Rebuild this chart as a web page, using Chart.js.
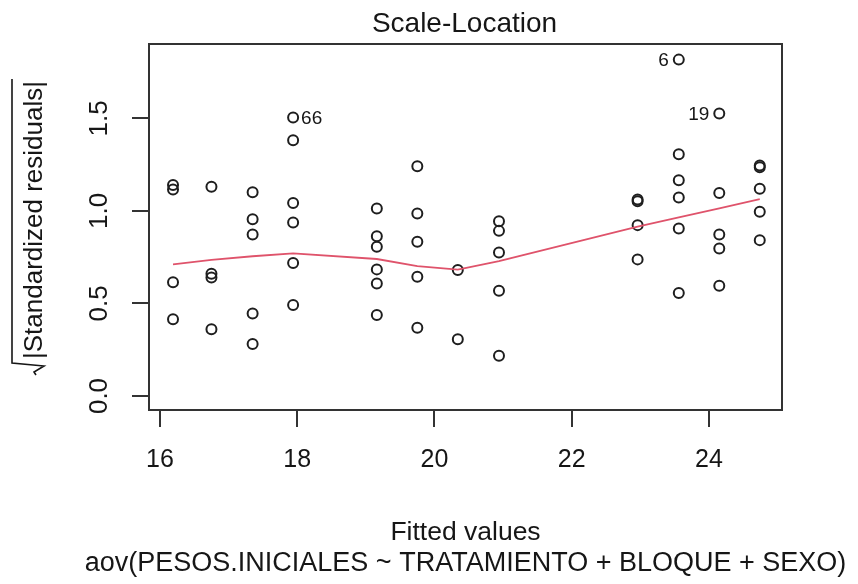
<!DOCTYPE html>
<html>
<head>
<meta charset="utf-8">
<script src="https://cdn.jsdelivr.net/npm/chart.js@4.4.1/dist/chart.umd.min.js"></script>
<style>
  html, body { margin: 0; padding: 0; background: #ffffff; }
  #wrap { width: 858px; height: 584px; }
</style>
</head>
<body>
<div id="wrap"><canvas id="c" width="858" height="584"></canvas></div>
<script>
// ---- data ----
const fittedGroups = [16.19, 16.75, 17.35, 17.94, 19.16, 19.75, 20.34, 20.94, 22.96, 23.56, 24.15, 24.74];
const sqrtStdResid = [
  [1.140, 1.115, 0.615, 0.415],
  [1.130, 0.660, 0.640, 0.360],
  [1.100, 0.955, 0.873, 0.446, 0.281],
  [1.504, 1.381, 1.043, 0.937, 0.719, 0.491],
  [1.013, 0.863, 0.806, 0.684, 0.608, 0.437],
  [1.241, 0.986, 0.833, 0.644, 0.369],
  [0.680, 0.306],
  [0.944, 0.892, 0.775, 0.568, 0.218],
  [1.062, 1.052, 0.923, 0.738],
  [1.817, 1.306, 1.166, 1.072, 0.905, 0.557],
  [1.526, 1.097, 0.872, 0.797, 0.595],
  [1.245, 1.235, 1.119, 0.995, 0.842]
];
const lowessY = [0.711, 0.735, 0.755, 0.770, 0.740, 0.702, 0.683, 0.729, 0.915, 0.965, 1.013, 1.063];
const xTicks = [16, 18, 20, 22, 24];
const yTicks = [0.0, 0.5, 1.0, 1.5];
const yTickLabels = ['0.0', '0.5', '1.0', '1.5'];
const labelIds = ['66', '6', '19'];
const labelX = [17.94, 23.56, 24.15];
const labelY = [1.504, 1.817, 1.526];
const labelSide = ['right', 'left', 'left'];
const titleText = 'Scale-Location';
const xTitle = 'Fitted values';
const subTitle = 'aov(PESOS.INICIALES ~ TRATAMIENTO + BLOQUE + SEXO)';
const yTitle = '|Standardized residuals|';

// ---- build library structures ----
const pointData = [];
fittedGroups.forEach((fx, i) => sqrtStdResid[i].forEach(v => pointData.push({ x: fx, y: v })));
const lineData = fittedGroups.map((fx, i) => ({ x: fx, y: lowessY[i] }));

const FONT = '"Liberation Sans", Arial, Helvetica, sans-serif';
const INK = '#161616';

const furniture = {
  id: 'furniture',
  afterDraw(chart) {
    const { ctx, chartArea: a, scales } = chart;
    const xs = scales.x, ys = scales.y;
    ctx.save();
    // box
    ctx.strokeStyle = '#333';
    ctx.lineWidth = 2;
    ctx.strokeRect(a.left, a.top, a.right - a.left, a.bottom - a.top);

    ctx.fillStyle = INK;
    // y tick labels (rotated, R style)
    ctx.font = '26px ' + FONT;
    ctx.textAlign = 'center';
    ctx.textBaseline = 'alphabetic';
    yTicks.forEach((v, i) => {
      const py = ys.getPixelForValue(v);
      ctx.save();
      ctx.translate(107, py);
      ctx.rotate(-Math.PI / 2);
      ctx.fillText(yTickLabels[i], 0, 0);
      ctx.restore();
    });

    // title
    const cx = (a.left + a.right) / 2;
    ctx.font = '28px ' + FONT;
    ctx.fillText(titleText, cx - 1, 32);

    // x title and sub title
    ctx.font = '26.5px ' + FONT;
    ctx.fillText(xTitle, cx, 540);
    ctx.font = '27px ' + FONT;
    ctx.fillText(subTitle, cx, 571);

    // y title with radical sign
    const cy = 220;
    ctx.save();
    ctx.translate(42, cy);
    ctx.rotate(-Math.PI / 2);
    ctx.font = '26px ' + FONT;
    ctx.textAlign = 'center';
    ctx.fillText(yTitle, 0, 0);
    const w = ctx.measureText(yTitle).width;
    const u0 = -w / 2 - 4;
    ctx.strokeStyle = INK;
    ctx.lineWidth = 1.6;
    ctx.beginPath();
    ctx.moveTo(w / 2 + 2, -30);
    ctx.lineTo(u0, -30);
    ctx.lineTo(u0 - 3, 2);
    ctx.lineTo(u0 - 9, -8);
    ctx.lineTo(u0 - 12, -6);
    ctx.stroke();
    ctx.restore();

    // identified points
    ctx.font = '19px ' + FONT;
    ctx.textBaseline = 'middle';
    labelIds.forEach((id, i) => {
      const px = xs.getPixelForValue(labelX[i]);
      const py = ys.getPixelForValue(labelY[i]);
      if (labelSide[i] === 'right') {
        ctx.textAlign = 'left';
        ctx.fillText(id, px + 8, py + 1);
      } else {
        ctx.textAlign = 'right';
        ctx.fillText(id, px - 10, py + 1);
      }
    });
    ctx.restore();
  }
};

new Chart(document.getElementById('c'), {
  type: 'scatter',
  data: {
    datasets: [
      {
        type: 'line',
        data: lineData,
        borderColor: '#DF536B',
        borderWidth: 1.8,
        pointRadius: 0,
        tension: 0,
        fill: false
      },
      {
        type: 'scatter',
        data: pointData,
        pointStyle: 'circle',
        pointRadius: 5,
        borderWidth: 2,
        borderColor: '#1e1e1e',
        backgroundColor: 'rgba(0,0,0,0)'
      }
    ]
  },
  options: {
    responsive: false,
    devicePixelRatio: 1,
    animation: false,
    events: [],
    layout: { padding: { left: 0, top: 44, right: 76, bottom: 0 } },
    plugins: { legend: { display: false }, tooltip: { enabled: false }, title: { display: false } },
    scales: {
      x: {
        type: 'linear',
        min: 15.84,
        max: 25.064,
        afterBuildTicks: s => { s.ticks = xTicks.map(v => ({ value: v })); },
        afterFit: s => { s.height = 174; },
        grid: { drawOnChartArea: false, drawTicks: true, tickLength: 17, color: '#333', lineWidth: 2 },
        border: { display: false },
        ticks: { color: INK, font: { size: 25, family: FONT }, padding: 18, maxRotation: 0, minRotation: 0 }
      },
      y: {
        type: 'linear',
        min: -0.0756,
        max: 1.9014,
        afterBuildTicks: s => { s.ticks = yTicks.map(v => ({ value: v })); },
        afterFit: s => { s.width = 149; },
        grid: { drawOnChartArea: false, drawTicks: true, tickLength: 17, color: '#333', lineWidth: 2 },
        border: { display: false },
        ticks: { display: false }
      }
    }
  },
  plugins: [furniture]
});
</script>
</body>
</html>
